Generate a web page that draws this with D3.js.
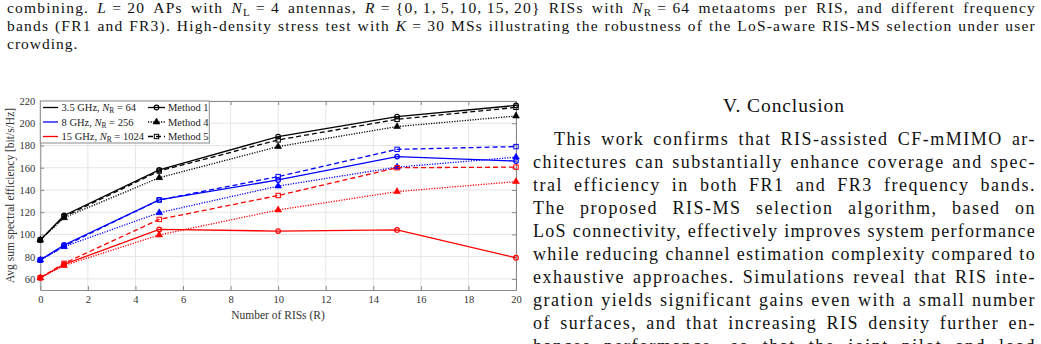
<!DOCTYPE html>
<html>
<head>
<meta charset="utf-8">
<script src="https://cdn.jsdelivr.net/npm/d3@7"></script>
<style>
  html, body { margin: 0; padding: 0; background: #fff; }
  svg { display: block; }
  text { font-family: "Liberation Serif", "Times New Roman", serif; white-space: pre; }
</style>
</head>
<body>
<div id="page"></div>
<script>
// number of RISs
const risCounts = [0, 1, 5, 10, 15, 20];
const xTicks = [0, 2, 4, 6, 8, 10, 12, 14, 16, 18, 20];
const yTicks = [60, 80, 100, 120, 140, 160, 180, 200, 220];

// avg sum spectral efficiency [bit/s/Hz]
const ghz35_m1 = [95, 117, 158, 188, 206, 216];
const ghz35_m4 = [95, 115, 151, 179, 197, 206.5];
const ghz35_m5 = [95, 116, 157, 185, 203.5, 214.3];
const ghz8_m1 = [77, 90.5, 131, 149, 170, 166];
const ghz8_m4 = [77, 89, 119.5, 143.5, 160.5, 169.5];
const ghz8_m5 = [77, 89.5, 131, 152, 176.5, 179];
const ghz15_m1 = [61, 73, 104.5, 103, 104, 79];
const ghz15_m4 = [61, 72, 99.5, 122, 138.5, 147.5];
const ghz15_m5 = [61, 74, 113.5, 135, 160, 160.5];

const bands = ["3.5 GHz", "8 GHz", "15 GHz"];
const bandNR = ["64", "256", "1024"];
const bandColors = ["#000000", "#0000ff", "#ff0000"];
const methods = ["Method 1", "Method 4", "Method 5"];

const series = [
  { band: 0, method: 0, values: ghz35_m1 },
  { band: 0, method: 1, values: ghz35_m4 },
  { band: 0, method: 2, values: ghz35_m5 },
  { band: 1, method: 0, values: ghz8_m1 },
  { band: 1, method: 1, values: ghz8_m4 },
  { band: 1, method: 2, values: ghz8_m5 },
  { band: 2, method: 0, values: ghz15_m1 },
  { band: 2, method: 1, values: ghz15_m4 },
  { band: 2, method: 2, values: ghz15_m5 },
];

const W = 1041, H = 344;
const svg = d3.select("#page").append("svg").attr("width", W).attr("height", H);
svg.append("rect").attr("width", W).attr("height", H).attr("fill", "#fff");

// ---------- text helper: words placed one by one, optionally justified ----------
// the serif font is narrower than the paper's font, so some letter spacing is added
function drawLine(parent, words, x0, x1, yBase, size, justify, maxLs) {
  const g = parent.append("g");
  const items = words.map((w) => {
    const segs = typeof w === "string" ? [[w, ""]] : w;
    const t = g.append("text").attr("y", yBase).style("font-size", size + "px").attr("fill", "#111");
    let shifted = false;
    segs.forEach(([s, st]) => {
      const ts = t.append("tspan").text(s);
      if (st === "i") ts.style("font-style", "italic");
      if (st === "s") {
        ts.style("font-size", size * 0.7 + "px").attr("dy", size * 0.2);
        shifted = true;
      } else if (shifted) {
        ts.attr("dy", -size * 0.2);
        shifted = false;
      }
    });
    return t;
  });
  const space = size * 0.33;
  const widths = items.map((t) => t.node().getComputedTextLength());
  const chars = items.map((t) => t.node().getNumberOfChars());
  let ls = 0;
  if (justify) {
    const spare = x1 - x0 - d3.sum(widths) - space * (items.length - 1);
    ls = Math.max(0, Math.min(maxLs, spare / d3.sum(chars)));
  } else {
    ls = maxLs;
  }
  items.forEach((t) => t.style("letter-spacing", ls + "px"));
  const full = widths.map((w, i) => w + ls * chars[i]);
  const gap = justify && items.length > 1 ? (x1 - x0 - d3.sum(full)) / (items.length - 1) : space;
  let x = x0;
  items.forEach((t, i) => {
    t.attr("x", x);
    x += full[i] + gap;
  });
}

// caption (top)
const capSize = 15.5;
const cap1 = ["combining.", [["L", "i"], [" = 20", ""]], "APs", "with", [["N", "i"], ["L", "s"], [" = 4", ""]],
  "antennas,", [["R", "i"], [" = {0,\u20091,\u20095,\u200910,\u200915,\u200920}", ""]], "RISs", "with",
  [["N", "i"], ["R", "s"], [" = 64", ""]], "metaatoms", "per", "RIS,", "and", "different", "frequency"];
const cap2 = ["bands", "(FR1", "and", "FR3).", "High-density", "stress", "test", "with", [["K", "i"], [" = 30", ""]],
  "MSs", "illustrating", "the", "robustness", "of", "the", "LoS-aware", "RIS-MS", "selection", "under", "user"];
drawLine(svg, cap1, 7, 1036, 13, capSize, true, 1.2);
drawLine(svg, cap2, 7, 1036, 31, capSize, true, 1.2);
drawLine(svg, ["crowding."], 7, 1036, 49, capSize, false, 1.0);

// right column
svg.append("text").attr("x", 784).attr("y", 112).attr("text-anchor", "middle")
  .style("font-size", "19.5px").style("letter-spacing", "0.9px").attr("fill", "#111").text("V. Conclusion");

const para = [
  "This work confirms that RIS-assisted CF-mMIMO ar-",
  "chitectures can substantially enhance coverage and spec-",
  "tral efficiency in both FR1 and FR3 frequency bands.",
  "The proposed RIS-MS selection algorithm, based on",
  "LoS connectivity, effectively improves system performance",
  "while reducing channel estimation complexity compared to",
  "exhaustive approaches. Simulations reveal that RIS inte-",
  "gration yields significant gains even with a small number",
  "of surfaces, and that increasing RIS density further en-",
  "hances performance, so that the joint pilot and load",
];
para.forEach((line, i) => {
  drawLine(svg, line.split(" "), i === 0 ? 554 : 533, 1036, 144.5 + i * 23, 18, true, 1.5);
});

// ---------- chart ----------
const x = d3.scaleLinear().domain([0, 20]).range([40.3, 516]);
const y = d3.scaleLinear().domain([50, 220]).range([290, 101]);
const chart = svg.append("g");

chart.append("g").selectAll("line").data(xTicks).join("line")
  .attr("x1", (d) => x(d)).attr("x2", (d) => x(d)).attr("y1", y(50)).attr("y2", y(220))
  .attr("stroke", "#e6e6e6").attr("stroke-width", 1);
chart.append("g").selectAll("line").data(yTicks).join("line")
  .attr("x1", x(0)).attr("x2", x(20)).attr("y1", (d) => y(d)).attr("y2", (d) => y(d))
  .attr("stroke", "#e6e6e6").attr("stroke-width", 1);

const axisColor = "#8a8a8a";
function styleAxis(sel, labels) {
  sel.select(".domain").attr("stroke", axisColor);
  sel.selectAll(".tick line").attr("stroke", axisColor);
  sel.selectAll(".tick text").attr("fill", labels ? "#333" : "none")
    .style("font-size", "10.5px").style("font-family", "Liberation Serif, serif");
}
chart.append("g").attr("transform", `translate(0,${y(50)})`)
  .call(d3.axisBottom(x).tickValues(xTicks).tickSizeInner(-4).tickSizeOuter(0).tickPadding(6))
  .call((s) => styleAxis(s, true));
chart.append("g").attr("transform", `translate(0,${y(220)})`)
  .call(d3.axisTop(x).tickValues(xTicks).tickSizeInner(-4).tickSizeOuter(0))
  .call((s) => styleAxis(s, false));
chart.append("g").attr("transform", `translate(${x(0)},0)`)
  .call(d3.axisLeft(y).tickValues(yTicks).tickSizeInner(-4).tickSizeOuter(0).tickPadding(5))
  .call((s) => styleAxis(s, true));
chart.append("g").attr("transform", `translate(${x(20)},0)`)
  .call(d3.axisRight(y).tickValues(yTicks).tickSizeInner(-4).tickSizeOuter(0))
  .call((s) => styleAxis(s, false));

chart.append("text").attr("x", 278).attr("y", 319).attr("text-anchor", "middle")
  .style("font-size", "11.5px").attr("fill", "#333").text("Number of RISs (R)");
chart.append("text").attr("transform", `translate(14,${(y(50) + y(220)) / 2}) rotate(-90)`)
  .attr("text-anchor", "middle").style("font-size", "11.5px").attr("fill", "#333")
  .text("Avg sum spectral efficiency [bit/s/Hz]");

const dashes = [null, "1.2,1.4", "5,3"];
const line = d3.line().x((d, i) => x(risCounts[i])).y((d) => y(d));

function drawMarker(sel, method, color) {
  if (method === 0) {
    sel.append("circle").attr("r", 2.3).attr("fill", "none").attr("stroke", color).attr("stroke-width", 1.2);
  } else if (method === 1) {
    sel.append("path").attr("d", d3.symbol(d3.symbolTriangle, 20)()).attr("fill", color)
      .attr("stroke", color).attr("stroke-width", 0.6);
  } else {
    sel.append("rect").attr("x", -2.2).attr("y", -2.2).attr("width", 4.4).attr("height", 4.4)
      .attr("fill", "none").attr("stroke", color).attr("stroke-width", 1);
  }
}

series.forEach((s) => {
  const color = bandColors[s.band];
  chart.append("path").datum(s.values).attr("d", line).attr("fill", "none")
    .attr("stroke", color).attr("stroke-width", 1.3).attr("stroke-dasharray", dashes[s.method]);
  s.values.forEach((v, i) => {
    const m = chart.append("g").attr("transform", `translate(${x(risCounts[i])},${y(v)})`);
    drawMarker(m, s.method, color);
  });
});

// legend
const lg = chart.append("g");
lg.append("rect").attr("x", x(0)).attr("y", y(220)).attr("width", 169).attr("height", 42)
  .attr("fill", "#fff").attr("stroke", axisColor).attr("stroke-width", 1);
const rowY = [107.5, 122, 136.5];
bands.forEach((b, i) => {
  lg.append("line").attr("x1", 43).attr("x2", 58).attr("y1", rowY[i]).attr("y2", rowY[i])
    .attr("stroke", bandColors[i]).attr("stroke-width", 1.3);
  const t = lg.append("text").attr("x", 61.5).attr("y", rowY[i] + 3.6).style("font-size", "10.5px").attr("fill", "#222");
  t.append("tspan").text(b + ", ");
  t.append("tspan").style("font-style", "italic").text("N");
  t.append("tspan").style("font-size", "7.5px").attr("dy", 2).text("R");
  t.append("tspan").attr("dy", -2).text(" = " + bandNR[i]);
});
methods.forEach((m, i) => {
  lg.append("line").attr("x1", 148).attr("x2", 165).attr("y1", rowY[i]).attr("y2", rowY[i])
    .attr("stroke", "#000").attr("stroke-width", 1.3).attr("stroke-dasharray", dashes[i]);
  drawMarker(lg.append("g").attr("transform", `translate(156.5,${rowY[i]})`), i, "#000");
  lg.append("text").attr("x", 168).attr("y", rowY[i] + 3.6).style("font-size", "10.5px").attr("fill", "#222").text(m);
});
</script>
</body>
</html>
